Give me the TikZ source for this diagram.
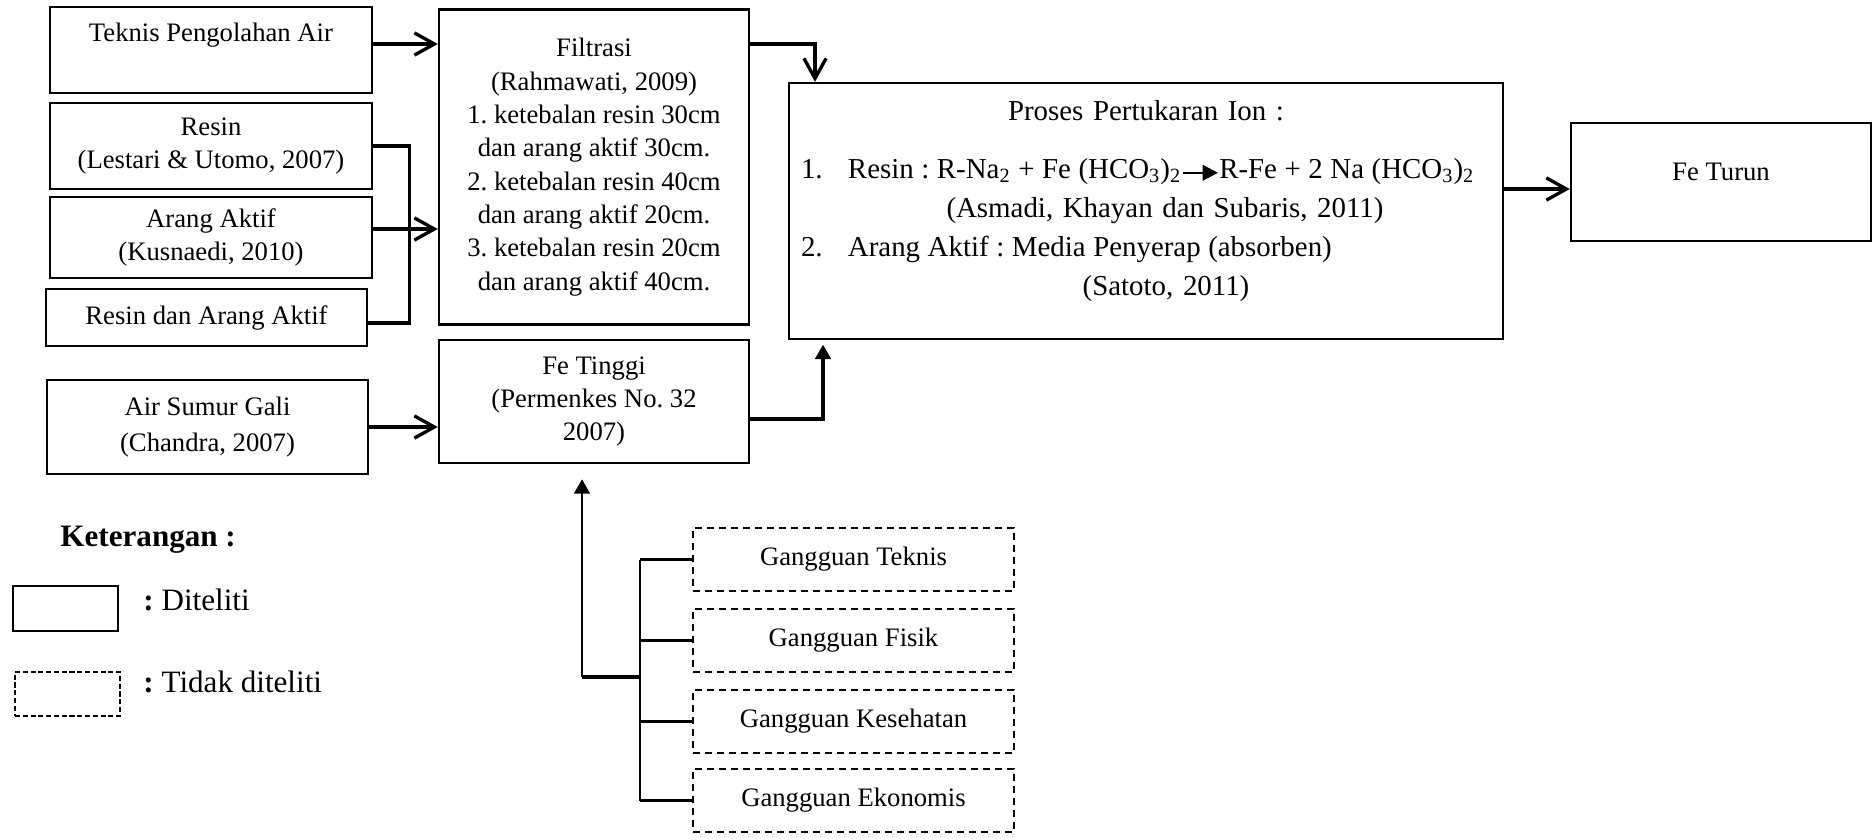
\documentclass[tikz,border=0pt]{standalone}
\usepackage{fontspec}
\setmainfont{Liberation Serif}
\usetikzlibrary{arrows.meta,positioning}
\setlength{\parindent}{0pt}
\frenchspacing
\newcommand{\reaksipanah}{\tikz[baseline=-2.6pt]\draw[line width=1.1pt,-{Triangle[length=7pt,width=7pt]}] (0pt,0pt) -- (16pt,0pt);}
\tikzset{
  solidbox/.style={draw,line width=1.1pt,inner sep=0pt,align=center,font=\fontsize{12}{15}\selectfont},
  dashbox/.style={solidbox,dash pattern=on 3.2pt off 2.2pt,minimum width=144.45pt,minimum height=28.35pt},
  link/.style={line width=1.5pt},
  barb/.style={link,-{Straight Barb[length=9pt,width=10pt]}},
  tri/.style={link,-{Triangle[length=6.5pt,width=7pt]}},
  legtext/.style={anchor=west,inner sep=0pt,font=\fontsize{14}{16}\selectfont}
}

\begin{document}
\begin{tikzpicture}[x=0.45pt,y=-0.45pt]
  \useasboundingbox (0,0) rectangle (1874,839);
  \node[solidbox,minimum width=144.9pt,minimum height=38.7pt,text depth=16pt] (teknis) at (211,50) {Teknis Pengolahan Air};
  \node[solidbox,minimum width=144.9pt,minimum height=38.7pt] (resin) at (211,146) {Resin\\(Lestari \& Utomo, 2007)};
  \node[solidbox,minimum width=144.9pt,minimum height=36.45pt] (arang) at (211,237.5) {Arang Aktif\\(Kusnaedi, 2010)};
  \node[solidbox,minimum width=144.45pt,minimum height=25.65pt] (resarang) at (206.5,317.5) {Resin dan Arang Aktif};
  \node[solidbox,minimum width=144.45pt,minimum height=42.3pt,font=\fontsize{12}{16.2}\selectfont] (airsumur) at (207.5,427) {Air Sumur Gali\\(Chandra, 2007)};
  \node[solidbox,minimum width=139.5pt,minimum height=141.75pt] (filtrasi) at (594,167)
  {Filtrasi\\(Rahmawati, 2009)\\1. ketebalan resin 30cm\\dan arang aktif 30cm.\\2. ketebalan resin 40cm\\dan arang aktif 20cm.\\3. ketebalan resin 20cm\\dan arang aktif 40cm.};
  \node[solidbox,minimum width=139.5pt,minimum height=55.35pt] (fetinggi) at (594,401.5) {Fe Tinggi\\(Permenkes No. 32\\2007)};
  \node[solidbox,align=left,text width=321.3pt,minimum height=115.2pt,font=\fontsize{13}{17.6}\selectfont] (proses) at (1146,211)
  {\hspace*{160.65pt}\makebox[0pt]{Proses Pertukaran Ion :}\par\vspace{8.35pt}
   {\spaceskip=3.4pt\relax\hspace*{5.4pt}\makebox[21.15pt][l]{1.}Resin : R-Na\textsubscript{2} + Fe (HCO\textsubscript{3})\textsubscript{2}\reaksipanah R-Fe + 2 Na (HCO\textsubscript{3})\textsubscript{2}\par}
   \hspace*{169.2pt}\makebox[0pt]{(Asmadi, Khayan dan Subaris, 2011)}\par
   {\spaceskip=3.4pt\relax\hspace*{5.4pt}\makebox[21.15pt][l]{2.}Arang Aktif : Media Penyerap (absorben)\par}
   \hspace*{169.65pt}\makebox[0pt]{(Satoto, 2011)}\par\vspace{8.6pt}\nointerlineskip\null};
  \node[solidbox,minimum width=135pt,minimum height=53.1pt,text depth=9pt] (feturun) at (1721,182) {Fe Turun};

  \node[dashbox] (gteknis) at (853.5,559.5) {Gangguan Teknis};
  \node[dashbox] (gfisik) at (853.5,640.5) {Gangguan Fisik};
  \node[dashbox] (gsehat) at (853.5,721.5) {Gangguan Kesehatan};
  \node[dashbox] (gekonomi) at (853.5,800.5) {Gangguan Ekonomis};

  \node[legtext,font=\bfseries\fontsize{14}{16}\selectfont] (keterangan) at (60,540) {Keterangan :};
  \node[draw,line width=1.1pt,minimum width=47.25pt,minimum height=20.25pt,inner sep=0pt] (legsolid) at (65.5,608.5) {};
  \node[legtext] (legsolidtxt) at (143,600) {\textbf{:} Diteliti};
  \node[draw,line width=1.1pt,dash pattern=on 2.3pt off 1.2pt,minimum width=47.25pt,minimum height=19.8pt,inner sep=0pt] (legdash) at (67.5,694) {};
  \node[legtext] (legdashtxt) at (143,682) {\textbf{:} Tidak diteliti};

  \coordinate (fdrop) at (815,44);
  \coordinate (arin) at (410,229);
  \coordinate (pout) at (1540,189);
  \draw[barb] (teknis.east |- fdrop) -- (filtrasi.west |- fdrop);
  \draw[link] (resin.east) -- ++(36,0) |- ([yshift=-2.5pt]resarang.east);
  \draw[barb] (arang.east |- arin) -- (filtrasi.west |- arin);
  \draw[barb] (airsumur.east) -- (airsumur.east -| fetinggi.west);
  \draw[barb] (fdrop -| filtrasi.east) -- (fdrop) -- (fdrop |- proses.north);
  \coordinate (frise) at (823,419);
  \draw[tri,shorten >=2pt] (frise -| fetinggi.east) -- (frise) -- (frise |- proses.south);
  \draw[barb] (pout -| proses.east) -- (pout -| feturun.west);

  \coordinate (bus) at (640,677);
  \coordinate (gup) at (582,677);
  \draw[link] (bus) -- (gup);
  \draw[tri,line width=1.3pt,shorten >=6.75pt] (gup) -- (gup |- fetinggi.south);
  \draw[link,line width=1.3pt] (gteknis.west -| bus) -- (gekonomi.west -| bus);
  \foreach \g in {gteknis,gfisik,gsehat,gekonomi}
    \draw[link,line width=1.2pt] (\g.west -| bus) -- (\g.west);
\end{tikzpicture}
\end{document}
